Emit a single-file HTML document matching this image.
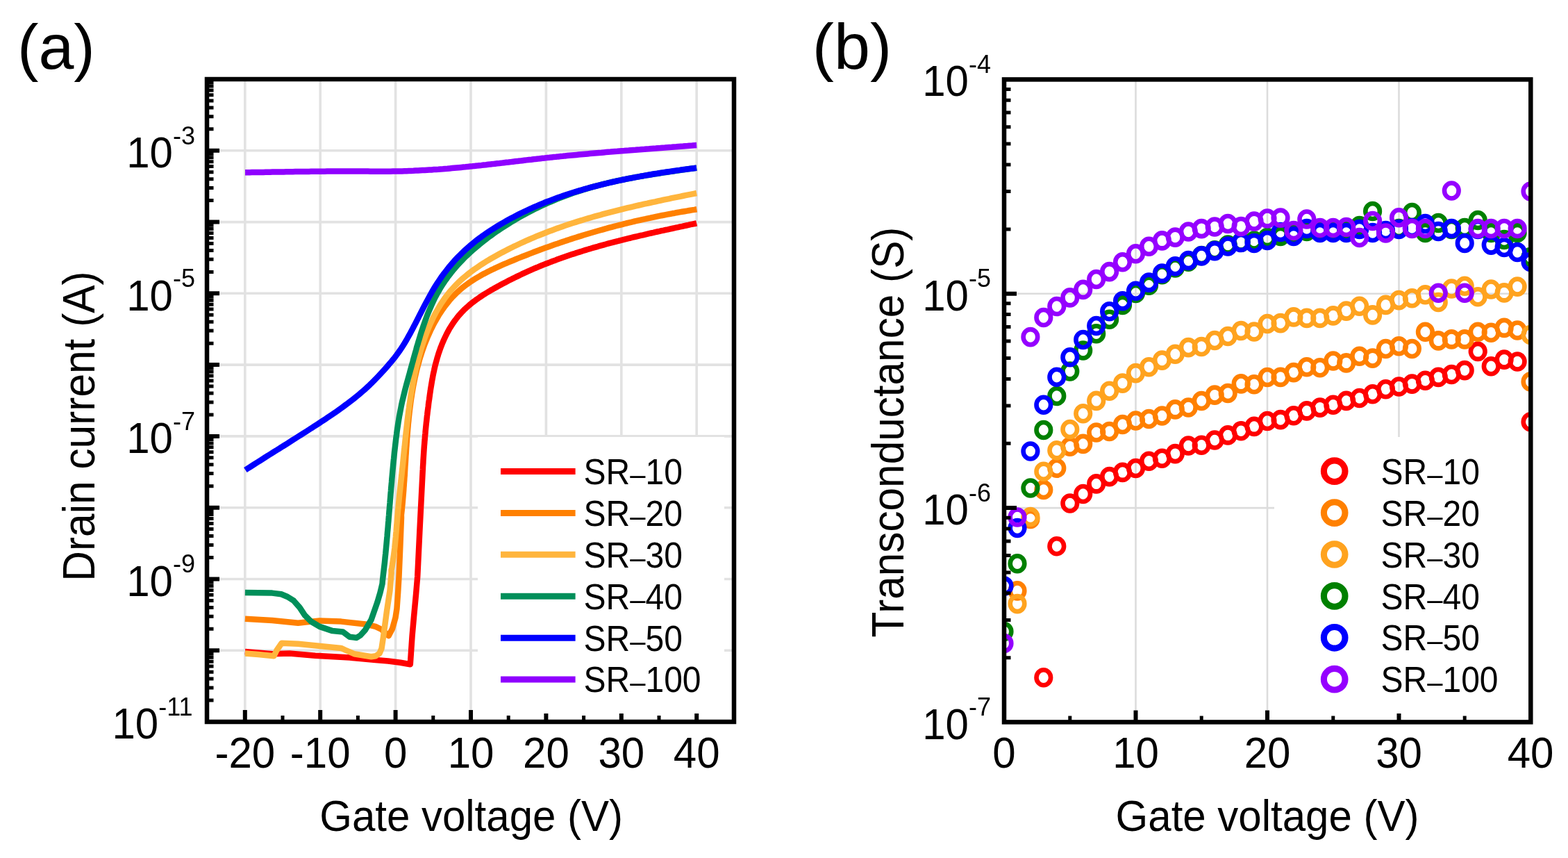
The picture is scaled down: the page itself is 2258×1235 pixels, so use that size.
<!DOCTYPE html><html><head><meta charset="utf-8"><title>Transfer characteristics and transconductance</title>
<style>html,body{margin:0;padding:0;background:#fff;}body{width:2258px;height:1235px;overflow:hidden;}svg{display:block;}text{font-family:"Liberation Sans", Arial, Helvetica, sans-serif;fill:#000;}</style></head><body>
<svg width="2258" height="1235" viewBox="0 0 2258 1235">
<rect x="0" y="0" width="2258" height="1235" fill="#fff"/>
<defs><clipPath id="ca"><rect x="298.0" y="114.0" width="759.0" height="925.0"/></clipPath>
<clipPath id="cb"><rect x="1446.0" y="114.4" width="758.3" height="925.0"/></clipPath></defs>
<g id="panel-a">
<path d="M352.8 114.0 V1039.0 M461.2 114.0 V1039.0 M569.6 114.0 V1039.0 M678.0 114.0 V1039.0 M786.4 114.0 V1039.0 M894.8 114.0 V1039.0 M1003.2 114.0 V1039.0 M298.0 216.8 H1057.0 M298.0 319.6 H1057.0 M298.0 422.3 H1057.0 M298.0 525.1 H1057.0 M298.0 627.9 H1057.0 M298.0 730.7 H1057.0 M298.0 833.5 H1057.0 M298.0 936.2 H1057.0" stroke="#e2e2e2" stroke-width="3.6" fill="none"/>
<g clip-path="url(#ca)" fill="none" stroke-width="8.5" stroke-linejoin="round" stroke-linecap="butt">
<path d="M352.9 937.9 L392.0 941.2 L416.8 940.6 L454.0 943.8 L503.6 946.6 L540.8 950.0 L559.0 951.5 L576.6 953.7 L590.8 956.3 L593.6 915.0 L596.0 888.0 L599.1 854.8 L601.2 830.0 L604.3 765.7 L608.7 678.3 L608.9 675.2 L609.0 672.2 L609.2 669.1 L609.4 666.1 L609.5 663.0 L609.7 660.0 L609.9 656.9 L610.1 653.9 L610.3 650.8 L610.5 647.8 L610.7 644.8 L610.9 641.8 L611.2 638.7 L611.4 635.7 L611.7 632.7 L611.9 629.7 L612.2 626.6 L612.5 623.6 L612.7 620.6 L613.0 617.6 L613.3 614.6 L613.6 611.6 L613.9 608.6 L614.3 605.6 L614.6 602.5 L614.9 599.5 L615.3 596.5 L615.6 593.5 L616.0 590.5 L616.4 587.5 L616.8 584.5 L617.1 581.5 L617.5 578.4 L618.0 575.4 L618.4 572.4 L618.8 569.4 L619.2 566.4 L619.7 563.3 L620.1 560.3 L620.6 557.3 L621.1 554.3 L621.6 551.2 L622.1 548.2 L622.7 545.2 L623.2 542.2 L623.8 539.2 L624.4 536.2 L625.1 533.2 L625.7 530.2 L626.4 527.2 L627.2 524.2 L628.0 521.2 L628.8 518.3 L629.6 515.3 L630.5 512.4 L631.4 509.4 L632.4 506.5 L633.4 503.6 L634.4 500.8 L635.5 497.9 L636.6 495.1 L637.8 492.3 L639.0 489.5 L640.3 486.7 L641.6 484.0 L642.9 481.3 L644.3 478.6 L645.8 475.9 L647.2 473.3 L648.8 470.8 L650.4 468.2 L652.0 465.7 L653.7 463.3 L655.5 460.8 L657.3 458.5 L659.1 456.1 L661.0 453.8 L663.0 451.6 L665.0 449.4 L667.1 447.2 L669.2 445.1 L671.4 443.1 L673.7 441.1 L675.9 439.1 L678.3 437.2 L680.6 435.3 L683.1 433.5 L685.5 431.6 L688.0 429.9 L690.5 428.1 L693.1 426.4 L695.6 424.7 L698.2 423.1 L700.8 421.5 L703.5 419.9 L706.1 418.3 L708.8 416.8 L711.5 415.2 L714.2 413.7 L716.9 412.2 L719.6 410.8 L722.3 409.3 L725.1 407.8 L727.8 406.4 L730.5 405.0 L733.2 403.6 L736.0 402.2 L738.7 400.8 L741.4 399.5 L744.2 398.1 L746.9 396.8 L749.7 395.5 L752.4 394.2 L755.2 392.9 L758.0 391.6 L760.7 390.4 L763.5 389.2 L766.3 387.9 L769.1 386.7 L771.9 385.5 L774.7 384.4 L777.5 383.2 L780.3 382.0 L783.1 380.9 L786.0 379.8 L788.8 378.7 L791.6 377.6 L794.5 376.5 L797.3 375.4 L800.2 374.4 L803.0 373.3 L805.9 372.3 L808.7 371.3 L811.6 370.3 L814.5 369.3 L817.3 368.3 L820.2 367.3 L823.1 366.3 L826.0 365.4 L828.9 364.4 L831.8 363.5 L834.7 362.6 L837.6 361.7 L840.5 360.8 L843.4 359.9 L846.3 359.0 L849.2 358.2 L852.1 357.3 L855.1 356.4 L858.0 355.6 L860.9 354.8 L863.8 353.9 L866.8 353.1 L869.7 352.3 L872.6 351.5 L875.6 350.7 L878.5 349.9 L881.5 349.2 L884.4 348.4 L887.4 347.6 L890.3 346.9 L893.3 346.1 L896.2 345.4 L899.2 344.6 L902.2 343.9 L905.1 343.2 L908.1 342.5 L911.0 341.7 L914.0 341.0 L917.0 340.3 L920.0 339.6 L922.9 338.9 L925.9 338.3 L928.9 337.6 L931.8 336.9 L934.8 336.2 L937.8 335.5 L940.8 334.9 L943.7 334.2 L946.7 333.5 L949.7 332.9 L952.7 332.2 L955.6 331.6 L958.6 330.9 L961.6 330.3 L964.6 329.6 L967.5 329.0 L970.5 328.3 L973.5 327.7 L976.5 327.1 L979.4 326.4 L982.4 325.8 L985.4 325.1 L988.4 324.5 L991.3 323.9 L994.3 323.2 L997.3 322.6 L1000.2 322.0 L1003.2 321.3" stroke="#ff0000"/>
<path d="M352.9 890.8 L392.0 893.0 L429.2 896.8 L460.2 893.4 L491.2 894.6 L528.4 898.8 L540.8 901.9 L549.5 906.0 L559.6 915.2 L565.0 905.0 L569.5 889.0 L571.5 876.0 L573.2 852.0 L574.5 830.0 L576.2 790.0 L578.0 745.0 L577.9 741.2 L578.3 737.7 L578.7 734.3 L579.0 730.8 L579.4 727.3 L579.7 723.8 L580.0 720.3 L580.3 716.8 L580.6 713.3 L580.9 709.8 L581.2 706.2 L581.4 702.7 L581.7 699.1 L581.9 695.6 L582.2 692.0 L582.4 688.5 L582.7 684.9 L582.9 681.4 L583.1 677.8 L583.3 674.2 L583.5 670.6 L583.8 667.1 L584.0 663.5 L584.2 659.9 L584.4 656.3 L584.7 652.7 L584.9 649.1 L585.1 645.5 L585.4 642.0 L585.6 638.4 L585.9 634.8 L586.1 631.2 L586.4 627.6 L586.7 624.0 L587.0 620.4 L587.3 616.8 L587.6 613.3 L587.9 609.7 L588.3 606.1 L588.6 602.5 L589.0 599.0 L589.4 595.4 L589.8 591.8 L590.2 588.3 L590.7 584.7 L591.1 581.2 L591.6 577.6 L592.1 574.1 L592.7 570.5 L593.2 567.0 L593.8 563.5 L594.4 560.0 L595.0 556.5 L595.7 553.0 L596.4 549.5 L597.1 546.0 L597.8 542.5 L598.6 539.0 L599.4 535.6 L600.2 532.1 L601.1 528.7 L602.0 525.3 L603.0 521.9 L603.9 518.4 L604.9 515.0 L606.0 511.7 L607.1 508.3 L608.2 504.9 L609.4 501.6 L610.6 498.2 L611.8 494.9 L613.1 491.6 L614.5 488.3 L615.8 485.0 L617.3 481.7 L618.7 478.5 L620.2 475.2 L621.8 472.0 L623.4 468.8 L625.1 465.6 L626.8 462.5 L628.6 459.4 L630.4 456.3 L632.2 453.2 L634.2 450.2 L636.1 447.2 L638.2 444.3 L640.2 441.4 L642.4 438.6 L644.6 435.8 L646.8 433.0 L649.1 430.3 L651.5 427.7 L653.9 425.2 L656.4 422.7 L659.0 420.2 L661.6 417.9 L664.3 415.6 L667.0 413.3 L669.8 411.2 L672.7 409.1 L675.5 407.0 L678.5 405.0 L681.4 403.1 L684.5 401.2 L687.5 399.4 L690.6 397.6 L693.7 395.8 L696.8 394.1 L700.0 392.5 L703.2 390.8 L706.4 389.2 L709.6 387.7 L712.8 386.1 L716.1 384.6 L719.4 383.1 L722.6 381.7 L725.9 380.2 L729.2 378.8 L732.5 377.4 L735.8 376.0 L739.1 374.7 L742.5 373.3 L745.8 371.9 L749.1 370.6 L752.4 369.3 L755.8 368.0 L759.1 366.7 L762.4 365.4 L765.8 364.1 L769.1 362.8 L772.5 361.5 L775.8 360.3 L779.1 359.0 L782.5 357.8 L785.9 356.6 L789.2 355.4 L792.6 354.2 L795.9 353.0 L799.3 351.8 L802.7 350.7 L806.1 349.5 L809.4 348.4 L812.8 347.2 L816.2 346.1 L819.6 345.0 L823.0 343.9 L826.4 342.8 L829.8 341.7 L833.2 340.6 L836.6 339.6 L840.0 338.5 L843.4 337.5 L846.8 336.5 L850.2 335.5 L853.6 334.5 L857.0 333.5 L860.4 332.5 L863.9 331.5 L867.3 330.6 L870.7 329.6 L874.2 328.7 L877.6 327.7 L881.0 326.8 L884.5 325.9 L887.9 325.0 L891.4 324.1 L894.8 323.3 L898.3 322.4 L901.7 321.5 L905.2 320.7 L908.7 319.9 L912.1 319.0 L915.6 318.2 L919.1 317.4 L922.6 316.6 L926.0 315.8 L929.5 315.1 L933.0 314.3 L936.5 313.6 L940.0 312.8 L943.5 312.1 L947.0 311.4 L950.5 310.7 L954.0 310.0 L957.5 309.3 L961.0 308.6 L964.5 308.0 L968.0 307.3 L971.6 306.7 L975.1 306.0 L978.6 305.4 L982.1 304.8 L985.7 304.2 L989.2 303.6 L992.7 303.0 L996.3 302.4 L999.8 301.9 L1003.4 301.3" stroke="#ff8000"/>
<path d="M352.9 940.6 L372.0 942.0 L394.5 944.2 L398.5 936.0 L405.6 925.8 L429.2 926.8 L491.2 932.9 L498.0 936.0 L510.0 941.2 L534.6 945.3 L541.0 944.2 L546.5 940.5 L549.5 933.5 L552.0 916.8 L557.0 879.6 L561.5 850.0 L563.6 825.0 L563.5 821.0 L564.3 817.0 L565.0 813.0 L565.6 809.0 L566.2 805.0 L566.8 801.0 L567.3 797.0 L567.8 793.0 L568.3 789.0 L568.7 785.0 L569.1 780.9 L569.5 776.9 L569.9 772.9 L570.2 768.8 L570.6 764.8 L570.9 760.8 L571.2 756.7 L571.6 752.7 L571.9 748.6 L572.2 744.6 L572.6 740.5 L572.9 736.5 L573.3 732.4 L573.7 728.4 L574.1 724.3 L574.5 720.3 L574.9 716.2 L575.3 712.1 L575.7 708.1 L576.2 704.0 L576.6 700.0 L577.0 695.9 L577.5 691.9 L577.9 687.8 L578.4 683.8 L578.8 679.7 L579.2 675.7 L579.7 671.6 L580.1 667.6 L580.5 663.6 L580.9 659.5 L581.3 655.5 L581.7 651.5 L582.1 647.4 L582.6 643.4 L583.0 639.4 L583.4 635.4 L583.8 631.4 L584.2 627.4 L584.6 623.4 L585.1 619.4 L585.5 615.4 L586.0 611.4 L586.4 607.4 L586.9 603.4 L587.4 599.4 L587.9 595.4 L588.4 591.4 L589.0 587.4 L589.5 583.4 L590.1 579.4 L590.7 575.4 L591.3 571.4 L591.9 567.4 L592.6 563.4 L593.3 559.4 L594.0 555.5 L594.7 551.5 L595.5 547.5 L596.3 543.5 L597.1 539.5 L597.9 535.5 L598.8 531.5 L599.7 527.5 L600.7 523.5 L601.7 519.5 L602.7 515.5 L603.8 511.5 L604.9 507.6 L606.0 503.6 L607.2 499.6 L608.5 495.7 L609.8 491.8 L611.1 487.9 L612.5 484.0 L613.9 480.2 L615.4 476.4 L616.9 472.6 L618.5 468.8 L620.2 465.1 L621.9 461.4 L623.6 457.7 L625.4 454.1 L627.3 450.5 L629.3 447.0 L631.3 443.5 L633.4 440.0 L635.5 436.6 L637.7 433.3 L640.0 430.0 L642.3 426.8 L644.8 423.6 L647.3 420.5 L649.8 417.5 L652.5 414.5 L655.2 411.6 L658.0 408.7 L660.9 405.9 L663.8 403.2 L666.8 400.5 L669.9 397.9 L673.0 395.4 L676.1 392.9 L679.4 390.4 L682.6 388.0 L686.0 385.7 L689.3 383.4 L692.7 381.1 L696.2 378.9 L699.6 376.7 L703.1 374.6 L706.6 372.5 L710.2 370.5 L713.8 368.5 L717.3 366.5 L720.9 364.5 L724.6 362.6 L728.2 360.7 L731.8 358.9 L735.5 357.0 L739.1 355.2 L742.8 353.5 L746.5 351.7 L750.1 350.0 L753.8 348.3 L757.5 346.6 L761.3 345.0 L765.0 343.4 L768.7 341.8 L772.5 340.2 L776.2 338.7 L780.0 337.2 L783.8 335.7 L787.5 334.2 L791.3 332.8 L795.1 331.4 L798.9 330.0 L802.7 328.6 L806.6 327.3 L810.4 325.9 L814.2 324.6 L818.1 323.3 L821.9 322.0 L825.8 320.8 L829.6 319.6 L833.5 318.3 L837.4 317.2 L841.2 316.0 L845.1 314.8 L849.0 313.7 L852.9 312.5 L856.8 311.4 L860.7 310.3 L864.6 309.3 L868.5 308.2 L872.5 307.1 L876.4 306.1 L880.3 305.1 L884.3 304.1 L888.2 303.1 L892.1 302.1 L896.1 301.1 L900.0 300.2 L904.0 299.2 L907.9 298.3 L911.9 297.4 L915.8 296.4 L919.8 295.5 L923.8 294.6 L927.7 293.7 L931.7 292.9 L935.7 292.0 L939.6 291.1 L943.6 290.3 L947.6 289.4 L951.5 288.6 L955.5 287.7 L959.5 286.9 L963.5 286.1 L967.4 285.2 L971.4 284.4 L975.4 283.6 L979.4 282.8 L983.3 282.0 L987.3 281.2 L991.3 280.4 L995.3 279.6 L999.2 278.8 L1003.2 278.0" stroke="#ffb53d"/>
<path d="M352.9 852.9 L392.0 853.6 L405.0 855.3 L414.0 859.0 L423.0 864.7 L431.7 874.6 L439.1 885.8 L447.8 894.5 L460.2 901.9 L478.8 908.1 L493.7 909.4 L503.6 916.8 L513.5 918.0 L519.0 914.5 L525.9 906.9 L534.6 892.0 L543.3 867.2 L547.5 853.0 L550.6 840.0 L550.9 835.7 L551.4 831.4 L551.9 827.1 L552.4 822.9 L552.9 818.6 L553.4 814.3 L553.9 810.0 L554.3 805.8 L554.7 801.5 L555.2 797.2 L555.6 792.9 L556.0 788.6 L556.4 784.3 L556.8 780.0 L557.2 775.7 L557.6 771.4 L557.9 767.1 L558.3 762.8 L558.7 758.5 L559.0 754.2 L559.4 749.9 L559.7 745.6 L560.1 741.3 L560.4 737.0 L560.8 732.7 L561.1 728.4 L561.5 724.1 L561.8 719.8 L562.2 715.5 L562.5 711.1 L562.9 706.8 L563.2 702.5 L563.6 698.2 L564.0 693.9 L564.3 689.6 L564.7 685.3 L565.1 681.0 L565.5 676.7 L565.9 672.4 L566.3 668.1 L566.7 663.8 L567.2 659.5 L567.6 655.2 L568.0 651.0 L568.5 646.7 L569.0 642.4 L569.5 638.1 L570.0 633.8 L570.5 629.6 L571.1 625.3 L571.6 621.0 L572.2 616.8 L572.9 612.5 L573.5 608.3 L574.2 604.1 L574.9 599.8 L575.7 595.6 L576.5 591.4 L577.3 587.2 L578.1 583.0 L579.0 578.8 L580.0 574.7 L581.0 570.5 L582.0 566.4 L583.0 562.2 L584.1 558.1 L585.2 553.9 L586.3 549.8 L587.5 545.6 L588.6 541.5 L589.8 537.3 L590.9 533.2 L592.1 529.0 L593.2 524.8 L594.4 520.6 L595.5 516.4 L596.7 512.2 L597.9 508.0 L599.1 503.8 L600.2 499.6 L601.5 495.4 L602.7 491.2 L604.0 487.1 L605.2 482.9 L606.5 478.7 L607.9 474.6 L609.3 470.4 L610.7 466.3 L612.1 462.3 L613.6 458.2 L615.1 454.1 L616.7 450.1 L618.4 446.1 L620.1 442.2 L621.8 438.3 L623.6 434.4 L625.5 430.5 L627.4 426.7 L629.4 423.0 L631.5 419.3 L633.6 415.6 L635.8 412.0 L638.1 408.4 L640.5 404.8 L643.0 401.4 L645.5 397.9 L648.1 394.6 L650.7 391.2 L653.4 387.9 L656.2 384.7 L659.0 381.5 L661.9 378.3 L664.9 375.2 L667.9 372.1 L670.9 369.1 L674.1 366.1 L677.2 363.2 L680.4 360.3 L683.7 357.5 L687.0 354.7 L690.3 351.9 L693.7 349.2 L697.1 346.5 L700.5 343.8 L704.0 341.2 L707.5 338.7 L711.0 336.1 L714.6 333.6 L718.2 331.2 L721.8 328.8 L725.4 326.4 L729.0 324.1 L732.7 321.8 L736.4 319.5 L740.1 317.3 L743.8 315.1 L747.6 312.9 L751.3 310.8 L755.1 308.7 L758.9 306.7 L762.7 304.7 L766.6 302.7 L770.4 300.8 L774.3 298.9 L778.2 297.0 L782.1 295.2 L786.0 293.4 L789.9 291.7 L793.9 290.0 L797.9 288.3 L801.8 286.6 L805.8 285.0 L809.8 283.5 L813.9 282.0 L817.9 280.5 L822.0 279.0 L826.0 277.6 L830.1 276.2 L834.2 274.9 L838.3 273.6 L842.4 272.3 L846.5 271.1 L850.7 269.9 L854.8 268.7 L859.0 267.6 L863.1 266.5 L867.3 265.4 L871.5 264.4 L875.7 263.3 L879.9 262.4 L884.1 261.4 L888.3 260.5 L892.5 259.6 L896.7 258.7 L901.0 257.9 L905.2 257.0 L909.5 256.2 L913.7 255.4 L917.9 254.6 L922.2 253.9 L926.5 253.2 L930.7 252.4 L935.0 251.7 L939.2 251.0 L943.5 250.4 L947.8 249.7 L952.0 249.0 L956.3 248.4 L960.6 247.7 L964.9 247.1 L969.1 246.5 L973.4 245.9 L977.6 245.2 L981.9 244.6 L986.2 244.0 L990.4 243.4 L994.7 242.8 L998.9 242.2 L1003.1 241.6" stroke="#008f5a"/>
<path d="M353.4 676.5 L356.8 674.3 L360.3 672.1 L363.7 669.9 L367.2 667.7 L370.6 665.5 L374.1 663.3 L377.6 661.1 L381.0 658.9 L384.5 656.7 L388.0 654.5 L391.4 652.4 L394.9 650.2 L398.4 648.0 L401.9 645.8 L405.3 643.6 L408.8 641.5 L412.3 639.3 L415.8 637.1 L419.2 634.9 L422.7 632.7 L426.2 630.5 L429.6 628.3 L433.1 626.1 L436.6 623.9 L440.0 621.7 L443.5 619.5 L446.9 617.3 L450.4 615.1 L453.8 612.8 L457.3 610.6 L460.7 608.4 L464.1 606.1 L467.6 603.9 L471.0 601.6 L474.4 599.3 L477.8 597.0 L481.1 594.7 L484.5 592.4 L487.9 590.0 L491.2 587.6 L494.5 585.2 L497.8 582.8 L501.1 580.4 L504.3 577.9 L507.6 575.4 L510.8 572.9 L514.0 570.3 L517.1 567.7 L520.2 565.1 L523.3 562.4 L526.4 559.7 L529.4 556.9 L532.4 554.1 L535.3 551.2 L538.3 548.3 L541.1 545.4 L544.0 542.4 L546.8 539.4 L549.6 536.4 L552.4 533.3 L555.1 530.3 L557.9 527.2 L560.5 524.1 L563.2 520.9 L565.8 517.8 L568.4 514.6 L570.9 511.3 L573.3 508.0 L575.6 504.7 L577.9 501.4 L580.1 498.0 L582.3 494.5 L584.4 491.0 L586.4 487.5 L588.4 483.9 L590.4 480.4 L592.3 476.8 L594.2 473.2 L596.1 469.5 L598.0 465.9 L599.9 462.2 L601.8 458.6 L603.6 454.9 L605.5 451.2 L607.4 447.6 L609.2 443.9 L611.1 440.3 L613.0 436.6 L615.0 433.0 L616.9 429.4 L618.9 425.8 L620.9 422.2 L622.9 418.7 L625.0 415.1 L627.2 411.6 L629.3 408.2 L631.6 404.8 L633.9 401.4 L636.2 398.0 L638.6 394.7 L641.1 391.5 L643.6 388.2 L646.1 385.0 L648.7 381.9 L651.4 378.8 L654.1 375.7 L656.9 372.7 L659.7 369.8 L662.6 366.9 L665.5 364.0 L668.5 361.2 L671.5 358.4 L674.6 355.7 L677.7 353.0 L680.8 350.4 L684.0 347.8 L687.3 345.2 L690.6 342.8 L693.9 340.3 L697.3 337.9 L700.7 335.6 L704.1 333.3 L707.5 331.0 L711.0 328.8 L714.5 326.6 L718.0 324.5 L721.5 322.4 L725.1 320.3 L728.7 318.3 L732.2 316.3 L735.9 314.3 L739.5 312.4 L743.1 310.5 L746.8 308.6 L750.4 306.8 L754.1 305.0 L757.8 303.3 L761.5 301.5 L765.2 299.8 L768.9 298.2 L772.7 296.6 L776.5 295.0 L780.2 293.4 L784.0 291.8 L787.8 290.3 L791.6 288.9 L795.5 287.4 L799.3 286.0 L803.1 284.6 L807.0 283.2 L810.9 281.9 L814.7 280.6 L818.6 279.3 L822.5 278.0 L826.4 276.8 L830.3 275.6 L834.3 274.4 L838.2 273.3 L842.1 272.1 L846.1 271.0 L850.0 269.9 L854.0 268.9 L858.0 267.8 L861.9 266.8 L865.9 265.8 L869.9 264.8 L873.9 263.9 L877.9 262.9 L881.9 262.0 L885.9 261.1 L889.9 260.2 L894.0 259.4 L898.0 258.5 L902.0 257.7 L906.1 256.9 L910.1 256.1 L914.1 255.3 L918.2 254.6 L922.2 253.8 L926.3 253.1 L930.3 252.4 L934.3 251.7 L938.4 251.0 L942.4 250.3 L946.5 249.7 L950.5 249.0 L954.6 248.4 L958.6 247.8 L962.7 247.2 L966.7 246.6 L970.8 246.0 L974.8 245.4 L978.9 244.9 L982.9 244.3 L987.0 243.8 L991.0 243.2 L995.0 242.7 L999.1 242.2 L1003.1 241.7" stroke="#0000ff"/>
<path d="M353.0 248.2 L356.3 248.2 L359.6 248.2 L362.8 248.1 L366.1 248.1 L369.4 248.0 L372.7 248.0 L375.9 247.9 L379.2 247.9 L382.5 247.8 L385.8 247.8 L389.0 247.7 L392.3 247.6 L395.6 247.6 L398.9 247.5 L402.1 247.5 L405.4 247.4 L408.7 247.4 L412.0 247.3 L415.3 247.3 L418.5 247.2 L421.8 247.2 L425.1 247.1 L428.4 247.1 L431.6 247.1 L434.9 247.0 L438.2 247.0 L441.5 246.9 L444.8 246.9 L448.0 246.8 L451.3 246.8 L454.6 246.8 L457.9 246.7 L461.1 246.7 L464.4 246.7 L467.7 246.7 L471.0 246.6 L474.2 246.6 L477.5 246.6 L480.8 246.6 L484.1 246.5 L487.4 246.5 L490.6 246.5 L493.9 246.5 L497.2 246.5 L500.5 246.5 L503.7 246.5 L507.0 246.5 L510.3 246.5 L513.6 246.5 L516.8 246.5 L520.1 246.6 L523.4 246.6 L526.7 246.6 L529.9 246.6 L533.2 246.7 L536.5 246.7 L539.7 246.7 L543.0 246.7 L546.3 246.7 L549.6 246.7 L552.8 246.7 L556.1 246.7 L559.4 246.7 L562.6 246.7 L565.9 246.6 L569.2 246.6 L572.5 246.5 L575.7 246.4 L579.0 246.4 L582.3 246.3 L585.5 246.2 L588.8 246.0 L592.1 245.9 L595.3 245.8 L598.6 245.6 L601.9 245.5 L605.2 245.3 L608.4 245.1 L611.7 245.0 L615.0 244.8 L618.2 244.6 L621.5 244.4 L624.8 244.1 L628.0 243.9 L631.3 243.7 L634.6 243.4 L637.8 243.2 L641.1 242.9 L644.3 242.7 L647.6 242.4 L650.9 242.1 L654.1 241.8 L657.4 241.5 L660.7 241.2 L663.9 240.9 L667.2 240.6 L670.4 240.3 L673.7 239.9 L677.0 239.6 L680.2 239.3 L683.5 238.9 L686.7 238.6 L690.0 238.2 L693.2 237.9 L696.5 237.5 L699.8 237.2 L703.0 236.8 L706.3 236.4 L709.5 236.1 L712.8 235.7 L716.0 235.3 L719.3 235.0 L722.6 234.6 L725.8 234.2 L729.1 233.8 L732.3 233.5 L735.6 233.1 L738.8 232.7 L742.1 232.3 L745.4 231.9 L748.6 231.6 L751.9 231.2 L755.1 230.8 L758.4 230.4 L761.6 230.0 L764.9 229.7 L768.2 229.3 L771.4 228.9 L774.7 228.6 L777.9 228.2 L781.2 227.8 L784.4 227.5 L787.7 227.1 L791.0 226.8 L794.2 226.4 L797.5 226.1 L800.7 225.8 L804.0 225.4 L807.3 225.1 L810.5 224.8 L813.8 224.4 L817.0 224.1 L820.3 223.8 L823.6 223.5 L826.8 223.2 L830.1 222.9 L833.3 222.6 L836.6 222.3 L839.9 222.0 L843.1 221.7 L846.4 221.4 L849.7 221.1 L852.9 220.8 L856.2 220.5 L859.5 220.2 L862.7 219.9 L866.0 219.7 L869.2 219.4 L872.5 219.1 L875.8 218.8 L879.0 218.6 L882.3 218.3 L885.6 218.0 L888.8 217.8 L892.1 217.5 L895.4 217.2 L898.6 217.0 L901.9 216.7 L905.2 216.5 L908.4 216.2 L911.7 215.9 L915.0 215.7 L918.2 215.4 L921.5 215.2 L924.8 214.9 L928.0 214.7 L931.3 214.4 L934.6 214.2 L937.8 213.9 L941.1 213.7 L944.4 213.5 L947.6 213.2 L950.9 213.0 L954.2 212.7 L957.4 212.5 L960.7 212.2 L964.0 212.0 L967.2 211.8 L970.5 211.5 L973.8 211.3 L977.0 211.0 L980.3 210.8 L983.6 210.6 L986.9 210.3 L990.1 210.1 L993.4 209.8 L996.7 209.6 L999.9 209.3 L1003.2 209.1" stroke="#8f00ff"/>
</g>
<path d="M352.8 1039.0 V1022.0 M461.2 1039.0 V1022.0 M569.6 1039.0 V1022.0 M678.0 1039.0 V1022.0 M786.4 1039.0 V1022.0 M894.8 1039.0 V1022.0 M1003.2 1039.0 V1022.0" stroke="#000" stroke-width="6" fill="none"/>
<path d="M407.0 1039.0 V1030.0 M515.4 1039.0 V1030.0 M623.8 1039.0 V1030.0 M732.2 1039.0 V1030.0 M840.6 1039.0 V1030.0 M949.0 1039.0 V1030.0" stroke="#000" stroke-width="5" fill="none"/>
<path d="M298.0 216.8 H316.0 M298.0 319.6 H316.0 M298.0 422.3 H316.0 M298.0 525.1 H316.0 M298.0 627.9 H316.0 M298.0 730.7 H316.0 M298.0 833.5 H316.0 M298.0 936.2 H316.0" stroke="#000" stroke-width="6" fill="none"/>
<path d="M298.0 1008.1 H307.5 M298.0 990.0 H307.5 M298.0 977.1 H307.5 M298.0 967.2 H307.5 M298.0 959.0 H307.5 M298.0 952.2 H307.5 M298.0 946.2 H307.5 M298.0 940.9 H307.5 M298.0 905.3 H307.5 M298.0 887.2 H307.5 M298.0 874.4 H307.5 M298.0 864.4 H307.5 M298.0 856.3 H307.5 M298.0 849.4 H307.5 M298.0 843.4 H307.5 M298.0 838.2 H307.5 M298.0 802.5 H307.5 M298.0 784.4 H307.5 M298.0 771.6 H307.5 M298.0 761.6 H307.5 M298.0 753.5 H307.5 M298.0 746.6 H307.5 M298.0 740.6 H307.5 M298.0 735.4 H307.5 M298.0 699.7 H307.5 M298.0 681.6 H307.5 M298.0 668.8 H307.5 M298.0 658.8 H307.5 M298.0 650.7 H307.5 M298.0 643.8 H307.5 M298.0 637.9 H307.5 M298.0 632.6 H307.5 M298.0 597.0 H307.5 M298.0 578.9 H307.5 M298.0 566.0 H307.5 M298.0 556.1 H307.5 M298.0 547.9 H307.5 M298.0 541.0 H307.5 M298.0 535.1 H307.5 M298.0 529.8 H307.5 M298.0 494.2 H307.5 M298.0 476.1 H307.5 M298.0 463.2 H307.5 M298.0 453.3 H307.5 M298.0 445.1 H307.5 M298.0 438.3 H307.5 M298.0 432.3 H307.5 M298.0 427.0 H307.5 M298.0 391.4 H307.5 M298.0 373.3 H307.5 M298.0 360.5 H307.5 M298.0 350.5 H307.5 M298.0 342.4 H307.5 M298.0 335.5 H307.5 M298.0 329.5 H307.5 M298.0 324.3 H307.5 M298.0 288.6 H307.5 M298.0 270.5 H307.5 M298.0 257.7 H307.5 M298.0 247.7 H307.5 M298.0 239.6 H307.5 M298.0 232.7 H307.5 M298.0 226.7 H307.5 M298.0 221.5 H307.5 M298.0 185.8 H307.5 M298.0 167.7 H307.5 M298.0 154.9 H307.5 M298.0 144.9 H307.5 M298.0 136.8 H307.5 M298.0 129.9 H307.5 M298.0 124.0 H307.5 M298.0 118.7 H307.5" stroke="#000" stroke-width="5" fill="none"/>
<rect x="688" y="629" width="355" height="398" fill="#fff"/>
<path d="M721 678.4 H828.6" stroke="#ff0000" stroke-width="9" fill="none"/>
<text transform="translate(840.5 696.7) scale(1 1.075)" font-size="48">SR<tspan font-size="40">–</tspan>10</text>
<path d="M721 738.4 H828.6" stroke="#ff8000" stroke-width="9" fill="none"/>
<text transform="translate(840.5 756.6) scale(1 1.075)" font-size="48">SR<tspan font-size="40">–</tspan>20</text>
<path d="M721 798.3 H828.6" stroke="#ffb53d" stroke-width="9" fill="none"/>
<text transform="translate(840.5 816.6) scale(1 1.075)" font-size="48">SR<tspan font-size="40">–</tspan>30</text>
<path d="M721 858.2 H828.6" stroke="#008f5a" stroke-width="9" fill="none"/>
<text transform="translate(840.5 876.5) scale(1 1.075)" font-size="48">SR<tspan font-size="40">–</tspan>40</text>
<path d="M721 918.2 H828.6" stroke="#0000ff" stroke-width="9" fill="none"/>
<text transform="translate(840.5 936.5) scale(1 1.075)" font-size="48">SR<tspan font-size="40">–</tspan>50</text>
<path d="M721 978.1 H828.6" stroke="#8f00ff" stroke-width="9" fill="none"/>
<text transform="translate(840.5 996.4) scale(1 1.075)" font-size="48">SR<tspan font-size="40">–</tspan>100</text>
<rect x="298.0" y="114.0" width="759.0" height="925.0" fill="none" stroke="#000" stroke-width="6.5"/>
<text transform="translate(352.8 1105.3) scale(1 1.050)" font-size="60" text-anchor="middle">-20</text>
<text transform="translate(461.2 1105.3) scale(1 1.050)" font-size="60" text-anchor="middle">-10</text>
<text transform="translate(569.6 1105.3) scale(1 1.050)" font-size="60" text-anchor="middle">0</text>
<text transform="translate(678.0 1105.3) scale(1 1.050)" font-size="60" text-anchor="middle">10</text>
<text transform="translate(786.4 1105.3) scale(1 1.050)" font-size="60" text-anchor="middle">20</text>
<text transform="translate(894.8 1105.3) scale(1 1.050)" font-size="60" text-anchor="middle">30</text>
<text transform="translate(1003.2 1105.3) scale(1 1.050)" font-size="60" text-anchor="middle">40</text>
<text transform="translate(281.0 241.1) scale(1 1.050)" font-size="60" text-anchor="end">10<tspan font-size="36" dy="-32">-3</tspan></text>
<text transform="translate(281.0 446.6) scale(1 1.050)" font-size="60" text-anchor="end">10<tspan font-size="36" dy="-32">-5</tspan></text>
<text transform="translate(281.0 652.2) scale(1 1.050)" font-size="60" text-anchor="end">10<tspan font-size="36" dy="-32">-7</tspan></text>
<text transform="translate(281.0 857.8) scale(1 1.050)" font-size="60" text-anchor="end">10<tspan font-size="36" dy="-32">-9</tspan></text>
<text transform="translate(277.5 1063.3) scale(1 1.050)" font-size="60" text-anchor="end">10<tspan font-size="36" dy="-32">-11</tspan></text>
<text transform="translate(678.6 1196.0) scale(1 1.060)" font-size="60" text-anchor="middle">Gate voltage (V)</text>
<text transform="translate(135.6 613.5) rotate(-90) scale(1 1.060)" font-size="60.4" text-anchor="middle">Drain current (A)</text>
<text transform="translate(25.0 99.0)" font-size="91.5">(a)</text>
</g>
<g id="panel-b">
<path d="M1635.5 114.4 V1039.4 M1825.0 114.4 V1039.4 M2014.5 114.4 V1039.4 M1446.0 422.7 H2204.3 M1446.0 731.1 H2204.3" stroke="#dcdcdc" stroke-width="2.6" fill="none"/>
<g clip-path="url(#cb)" fill="none" stroke-width="6.6">
<g stroke="#ff0000"><ellipse cx="1502.8" cy="975.3" rx="10.3" ry="11.0"/><ellipse cx="1521.8" cy="786.2" rx="10.3" ry="11.0"/><ellipse cx="1540.8" cy="724.5" rx="10.3" ry="11.0"/><ellipse cx="1559.7" cy="711.0" rx="10.3" ry="11.0"/><ellipse cx="1578.7" cy="696.4" rx="10.3" ry="11.0"/><ellipse cx="1597.6" cy="686.1" rx="10.3" ry="11.0"/><ellipse cx="1616.5" cy="679.9" rx="10.3" ry="11.0"/><ellipse cx="1635.5" cy="674.0" rx="10.3" ry="11.0"/><ellipse cx="1654.5" cy="663.8" rx="10.3" ry="11.0"/><ellipse cx="1673.4" cy="659.7" rx="10.3" ry="11.0"/><ellipse cx="1692.3" cy="653.1" rx="10.3" ry="11.0"/><ellipse cx="1711.3" cy="641.5" rx="10.3" ry="11.0"/><ellipse cx="1730.2" cy="640.7" rx="10.3" ry="11.0"/><ellipse cx="1749.2" cy="633.5" rx="10.3" ry="11.0"/><ellipse cx="1768.2" cy="626.4" rx="10.3" ry="11.0"/><ellipse cx="1787.1" cy="620.2" rx="10.3" ry="11.0"/><ellipse cx="1806.0" cy="613.9" rx="10.3" ry="11.0"/><ellipse cx="1825.0" cy="606.0" rx="10.3" ry="11.0"/><ellipse cx="1844.0" cy="604.1" rx="10.3" ry="11.0"/><ellipse cx="1862.9" cy="598.3" rx="10.3" ry="11.0"/><ellipse cx="1881.8" cy="591.4" rx="10.3" ry="11.0"/><ellipse cx="1900.8" cy="586.6" rx="10.3" ry="11.0"/><ellipse cx="1919.8" cy="582.7" rx="10.3" ry="11.0"/><ellipse cx="1938.7" cy="576.9" rx="10.3" ry="11.0"/><ellipse cx="1957.7" cy="573.0" rx="10.3" ry="11.0"/><ellipse cx="1976.6" cy="567.2" rx="10.3" ry="11.0"/><ellipse cx="1995.5" cy="560.3" rx="10.3" ry="11.0"/><ellipse cx="2014.5" cy="556.5" rx="10.3" ry="11.0"/><ellipse cx="2033.4" cy="552.6" rx="10.3" ry="11.0"/><ellipse cx="2052.4" cy="547.7" rx="10.3" ry="11.0"/><ellipse cx="2071.3" cy="542.9" rx="10.3" ry="11.0"/><ellipse cx="2090.3" cy="539.0" rx="10.3" ry="11.0"/><ellipse cx="2109.2" cy="533.1" rx="10.3" ry="11.0"/><ellipse cx="2128.2" cy="505.9" rx="10.3" ry="11.0"/><ellipse cx="2147.2" cy="527.3" rx="10.3" ry="11.0"/><ellipse cx="2166.1" cy="517.6" rx="10.3" ry="11.0"/><ellipse cx="2185.1" cy="520.5" rx="10.3" ry="11.0"/><ellipse cx="2204.0" cy="607.2" rx="10.3" ry="11.0"/></g>
<g stroke="#ff8000"><ellipse cx="1465.0" cy="850.4" rx="10.3" ry="11.0"/><ellipse cx="1483.9" cy="747.0" rx="10.3" ry="11.0"/><ellipse cx="1502.8" cy="705.0" rx="10.3" ry="11.0"/><ellipse cx="1521.8" cy="673.8" rx="10.3" ry="11.0"/><ellipse cx="1540.8" cy="642.8" rx="10.3" ry="11.0"/><ellipse cx="1559.7" cy="638.9" rx="10.3" ry="11.0"/><ellipse cx="1578.7" cy="622.5" rx="10.3" ry="11.0"/><ellipse cx="1597.6" cy="621.0" rx="10.3" ry="11.0"/><ellipse cx="1616.5" cy="611.0" rx="10.3" ry="11.0"/><ellipse cx="1635.5" cy="605.5" rx="10.3" ry="11.0"/><ellipse cx="1654.5" cy="603.0" rx="10.3" ry="11.0"/><ellipse cx="1673.4" cy="598.5" rx="10.3" ry="11.0"/><ellipse cx="1692.3" cy="589.4" rx="10.3" ry="11.0"/><ellipse cx="1711.3" cy="586.5" rx="10.3" ry="11.0"/><ellipse cx="1730.2" cy="577.0" rx="10.3" ry="11.0"/><ellipse cx="1749.2" cy="568.6" rx="10.3" ry="11.0"/><ellipse cx="1768.2" cy="566.0" rx="10.3" ry="11.0"/><ellipse cx="1787.1" cy="552.4" rx="10.3" ry="11.0"/><ellipse cx="1806.0" cy="553.3" rx="10.3" ry="11.0"/><ellipse cx="1825.0" cy="543.0" rx="10.3" ry="11.0"/><ellipse cx="1844.0" cy="542.9" rx="10.3" ry="11.0"/><ellipse cx="1862.9" cy="536.1" rx="10.3" ry="11.0"/><ellipse cx="1881.8" cy="528.3" rx="10.3" ry="11.0"/><ellipse cx="1900.8" cy="529.3" rx="10.3" ry="11.0"/><ellipse cx="1919.8" cy="519.5" rx="10.3" ry="11.0"/><ellipse cx="1938.7" cy="522.4" rx="10.3" ry="11.0"/><ellipse cx="1957.7" cy="512.7" rx="10.3" ry="11.0"/><ellipse cx="1976.6" cy="515.6" rx="10.3" ry="11.0"/><ellipse cx="1995.5" cy="502.0" rx="10.3" ry="11.0"/><ellipse cx="2014.5" cy="498.2" rx="10.3" ry="11.0"/><ellipse cx="2033.4" cy="502.0" rx="10.3" ry="11.0"/><ellipse cx="2052.4" cy="477.7" rx="10.3" ry="11.0"/><ellipse cx="2071.3" cy="490.4" rx="10.3" ry="11.0"/><ellipse cx="2090.3" cy="488.4" rx="10.3" ry="11.0"/><ellipse cx="2109.2" cy="488.4" rx="10.3" ry="11.0"/><ellipse cx="2128.2" cy="477.7" rx="10.3" ry="11.0"/><ellipse cx="2147.2" cy="478.7" rx="10.3" ry="11.0"/><ellipse cx="2166.1" cy="471.9" rx="10.3" ry="11.0"/><ellipse cx="2185.1" cy="475.5" rx="10.3" ry="11.0"/><ellipse cx="2204.0" cy="549.4" rx="10.3" ry="11.0"/></g>
<g stroke="#ffa31f"><ellipse cx="1465.0" cy="869.1" rx="10.3" ry="11.0"/><ellipse cx="1483.9" cy="744.0" rx="10.3" ry="11.0"/><ellipse cx="1502.8" cy="678.7" rx="10.3" ry="11.0"/><ellipse cx="1521.8" cy="648.3" rx="10.3" ry="11.0"/><ellipse cx="1540.8" cy="618.0" rx="10.3" ry="11.0"/><ellipse cx="1559.7" cy="595.2" rx="10.3" ry="11.0"/><ellipse cx="1578.7" cy="576.9" rx="10.3" ry="11.0"/><ellipse cx="1597.6" cy="562.8" rx="10.3" ry="11.0"/><ellipse cx="1616.5" cy="551.6" rx="10.3" ry="11.0"/><ellipse cx="1635.5" cy="537.1" rx="10.3" ry="11.0"/><ellipse cx="1654.5" cy="528.3" rx="10.3" ry="11.0"/><ellipse cx="1673.4" cy="518.6" rx="10.3" ry="11.0"/><ellipse cx="1692.3" cy="509.8" rx="10.3" ry="11.0"/><ellipse cx="1711.3" cy="500.1" rx="10.3" ry="11.0"/><ellipse cx="1730.2" cy="499.0" rx="10.3" ry="11.0"/><ellipse cx="1749.2" cy="490.0" rx="10.3" ry="11.0"/><ellipse cx="1768.2" cy="484.0" rx="10.3" ry="11.0"/><ellipse cx="1787.1" cy="476.0" rx="10.3" ry="11.0"/><ellipse cx="1806.0" cy="477.5" rx="10.3" ry="11.0"/><ellipse cx="1825.0" cy="466.0" rx="10.3" ry="11.0"/><ellipse cx="1844.0" cy="465.1" rx="10.3" ry="11.0"/><ellipse cx="1862.9" cy="456.4" rx="10.3" ry="11.0"/><ellipse cx="1881.8" cy="457.9" rx="10.3" ry="11.0"/><ellipse cx="1900.8" cy="457.9" rx="10.3" ry="11.0"/><ellipse cx="1919.8" cy="454.4" rx="10.3" ry="11.0"/><ellipse cx="1938.7" cy="447.6" rx="10.3" ry="11.0"/><ellipse cx="1957.7" cy="440.8" rx="10.3" ry="11.0"/><ellipse cx="1976.6" cy="453.4" rx="10.3" ry="11.0"/><ellipse cx="1995.5" cy="438.9" rx="10.3" ry="11.0"/><ellipse cx="2014.5" cy="432.1" rx="10.3" ry="11.0"/><ellipse cx="2033.4" cy="429.2" rx="10.3" ry="11.0"/><ellipse cx="2052.4" cy="424.3" rx="10.3" ry="11.0"/><ellipse cx="2071.3" cy="435.0" rx="10.3" ry="11.0"/><ellipse cx="2090.3" cy="415.5" rx="10.3" ry="11.0"/><ellipse cx="2109.2" cy="411.7" rx="10.3" ry="11.0"/><ellipse cx="2128.2" cy="427.2" rx="10.3" ry="11.0"/><ellipse cx="2147.2" cy="416.5" rx="10.3" ry="11.0"/><ellipse cx="2166.1" cy="421.4" rx="10.3" ry="11.0"/><ellipse cx="2185.1" cy="412.6" rx="10.3" ry="11.0"/><ellipse cx="2204.0" cy="482.0" rx="10.3" ry="11.0"/></g>
<g stroke="#008000"><ellipse cx="1446.0" cy="909.0" rx="10.3" ry="11.0"/><ellipse cx="1465.0" cy="811.3" rx="10.3" ry="11.0"/><ellipse cx="1483.9" cy="702.5" rx="10.3" ry="11.0"/><ellipse cx="1502.8" cy="619.0" rx="10.3" ry="11.0"/><ellipse cx="1521.8" cy="570.0" rx="10.3" ry="11.0"/><ellipse cx="1540.8" cy="534.5" rx="10.3" ry="11.0"/><ellipse cx="1559.7" cy="504.5" rx="10.3" ry="11.0"/><ellipse cx="1578.7" cy="480.2" rx="10.3" ry="11.0"/><ellipse cx="1597.6" cy="459.8" rx="10.3" ry="11.0"/><ellipse cx="1616.5" cy="439.0" rx="10.3" ry="11.0"/><ellipse cx="1635.5" cy="422.0" rx="10.3" ry="11.0"/><ellipse cx="1654.5" cy="410.7" rx="10.3" ry="11.0"/><ellipse cx="1673.4" cy="395.2" rx="10.3" ry="11.0"/><ellipse cx="1692.3" cy="385.5" rx="10.3" ry="11.0"/><ellipse cx="1711.3" cy="376.7" rx="10.3" ry="11.0"/><ellipse cx="1730.2" cy="368.0" rx="10.3" ry="11.0"/><ellipse cx="1749.2" cy="360.2" rx="10.3" ry="11.0"/><ellipse cx="1768.2" cy="352.5" rx="10.3" ry="11.0"/><ellipse cx="1787.1" cy="348.6" rx="10.3" ry="11.0"/><ellipse cx="1806.0" cy="346.6" rx="10.3" ry="11.0"/><ellipse cx="1825.0" cy="342.0" rx="10.3" ry="11.0"/><ellipse cx="1844.0" cy="340.0" rx="10.3" ry="11.0"/><ellipse cx="1862.9" cy="338.0" rx="10.3" ry="11.0"/><ellipse cx="1881.8" cy="333.0" rx="10.3" ry="11.0"/><ellipse cx="1900.8" cy="333.0" rx="10.3" ry="11.0"/><ellipse cx="1919.8" cy="330.0" rx="10.3" ry="11.0"/><ellipse cx="1938.7" cy="330.0" rx="10.3" ry="11.0"/><ellipse cx="1957.7" cy="325.0" rx="10.3" ry="11.0"/><ellipse cx="1976.6" cy="304.0" rx="10.3" ry="11.0"/><ellipse cx="1995.5" cy="333.0" rx="10.3" ry="11.0"/><ellipse cx="2014.5" cy="329.0" rx="10.3" ry="11.0"/><ellipse cx="2033.4" cy="306.0" rx="10.3" ry="11.0"/><ellipse cx="2052.4" cy="335.0" rx="10.3" ry="11.0"/><ellipse cx="2071.3" cy="321.0" rx="10.3" ry="11.0"/><ellipse cx="2090.3" cy="330.0" rx="10.3" ry="11.0"/><ellipse cx="2109.2" cy="328.0" rx="10.3" ry="11.0"/><ellipse cx="2128.2" cy="317.0" rx="10.3" ry="11.0"/><ellipse cx="2147.2" cy="335.0" rx="10.3" ry="11.0"/><ellipse cx="2166.1" cy="345.0" rx="10.3" ry="11.0"/><ellipse cx="2185.1" cy="335.0" rx="10.3" ry="11.0"/><ellipse cx="2204.0" cy="370.0" rx="10.3" ry="11.0"/></g>
<g stroke="#0000ff"><ellipse cx="1446.0" cy="843.6" rx="10.3" ry="11.0"/><ellipse cx="1465.0" cy="760.0" rx="10.3" ry="11.0"/><ellipse cx="1483.9" cy="649.5" rx="10.3" ry="11.0"/><ellipse cx="1502.8" cy="582.7" rx="10.3" ry="11.0"/><ellipse cx="1521.8" cy="542.7" rx="10.3" ry="11.0"/><ellipse cx="1540.8" cy="514.2" rx="10.3" ry="11.0"/><ellipse cx="1559.7" cy="489.0" rx="10.3" ry="11.0"/><ellipse cx="1578.7" cy="469.0" rx="10.3" ry="11.0"/><ellipse cx="1597.6" cy="448.3" rx="10.3" ry="11.0"/><ellipse cx="1616.5" cy="433.2" rx="10.3" ry="11.0"/><ellipse cx="1635.5" cy="418.8" rx="10.3" ry="11.0"/><ellipse cx="1654.5" cy="406.6" rx="10.3" ry="11.0"/><ellipse cx="1673.4" cy="393.5" rx="10.3" ry="11.0"/><ellipse cx="1692.3" cy="383.3" rx="10.3" ry="11.0"/><ellipse cx="1711.3" cy="375.0" rx="10.3" ry="11.0"/><ellipse cx="1730.2" cy="368.4" rx="10.3" ry="11.0"/><ellipse cx="1749.2" cy="361.1" rx="10.3" ry="11.0"/><ellipse cx="1768.2" cy="354.5" rx="10.3" ry="11.0"/><ellipse cx="1787.1" cy="349.0" rx="10.3" ry="11.0"/><ellipse cx="1806.0" cy="350.0" rx="10.3" ry="11.0"/><ellipse cx="1825.0" cy="346.0" rx="10.3" ry="11.0"/><ellipse cx="1844.0" cy="334.0" rx="10.3" ry="11.0"/><ellipse cx="1862.9" cy="340.0" rx="10.3" ry="11.0"/><ellipse cx="1881.8" cy="329.0" rx="10.3" ry="11.0"/><ellipse cx="1900.8" cy="335.0" rx="10.3" ry="11.0"/><ellipse cx="1919.8" cy="335.0" rx="10.3" ry="11.0"/><ellipse cx="1938.7" cy="335.0" rx="10.3" ry="11.0"/><ellipse cx="1957.7" cy="330.0" rx="10.3" ry="11.0"/><ellipse cx="1976.6" cy="335.0" rx="10.3" ry="11.0"/><ellipse cx="1995.5" cy="332.0" rx="10.3" ry="11.0"/><ellipse cx="2014.5" cy="330.0" rx="10.3" ry="11.0"/><ellipse cx="2033.4" cy="328.0" rx="10.3" ry="11.0"/><ellipse cx="2052.4" cy="322.0" rx="10.3" ry="11.0"/><ellipse cx="2071.3" cy="333.0" rx="10.3" ry="11.0"/><ellipse cx="2090.3" cy="329.0" rx="10.3" ry="11.0"/><ellipse cx="2109.2" cy="350.0" rx="10.3" ry="11.0"/><ellipse cx="2128.2" cy="330.0" rx="10.3" ry="11.0"/><ellipse cx="2147.2" cy="352.6" rx="10.3" ry="11.0"/><ellipse cx="2166.1" cy="356.0" rx="10.3" ry="11.0"/><ellipse cx="2185.1" cy="363.0" rx="10.3" ry="11.0"/><ellipse cx="2204.0" cy="377.0" rx="10.3" ry="11.0"/></g>
<g stroke="#9500ff"><ellipse cx="1446.0" cy="926.0" rx="10.3" ry="11.0"/><ellipse cx="1465.0" cy="744.5" rx="10.3" ry="11.0"/><ellipse cx="1483.9" cy="485.1" rx="10.3" ry="11.0"/><ellipse cx="1502.8" cy="457.0" rx="10.3" ry="11.0"/><ellipse cx="1521.8" cy="441.0" rx="10.3" ry="11.0"/><ellipse cx="1540.8" cy="428.4" rx="10.3" ry="11.0"/><ellipse cx="1559.7" cy="416.9" rx="10.3" ry="11.0"/><ellipse cx="1578.7" cy="402.0" rx="10.3" ry="11.0"/><ellipse cx="1597.6" cy="391.1" rx="10.3" ry="11.0"/><ellipse cx="1616.5" cy="377.2" rx="10.3" ry="11.0"/><ellipse cx="1635.5" cy="365.2" rx="10.3" ry="11.0"/><ellipse cx="1654.5" cy="354.7" rx="10.3" ry="11.0"/><ellipse cx="1673.4" cy="346.4" rx="10.3" ry="11.0"/><ellipse cx="1692.3" cy="341.6" rx="10.3" ry="11.0"/><ellipse cx="1711.3" cy="333.5" rx="10.3" ry="11.0"/><ellipse cx="1730.2" cy="329.1" rx="10.3" ry="11.0"/><ellipse cx="1749.2" cy="326.5" rx="10.3" ry="11.0"/><ellipse cx="1768.2" cy="322.0" rx="10.3" ry="11.0"/><ellipse cx="1787.1" cy="326.0" rx="10.3" ry="11.0"/><ellipse cx="1806.0" cy="318.6" rx="10.3" ry="11.0"/><ellipse cx="1825.0" cy="314.5" rx="10.3" ry="11.0"/><ellipse cx="1844.0" cy="313.6" rx="10.3" ry="11.0"/><ellipse cx="1862.9" cy="332.0" rx="10.3" ry="11.0"/><ellipse cx="1881.8" cy="315.5" rx="10.3" ry="11.0"/><ellipse cx="1900.8" cy="328.0" rx="10.3" ry="11.0"/><ellipse cx="1919.8" cy="328.0" rx="10.3" ry="11.0"/><ellipse cx="1938.7" cy="327.0" rx="10.3" ry="11.0"/><ellipse cx="1957.7" cy="342.0" rx="10.3" ry="11.0"/><ellipse cx="1976.6" cy="318.0" rx="10.3" ry="11.0"/><ellipse cx="1995.5" cy="335.5" rx="10.3" ry="11.0"/><ellipse cx="2014.5" cy="313.3" rx="10.3" ry="11.0"/><ellipse cx="2033.4" cy="329.0" rx="10.3" ry="11.0"/><ellipse cx="2052.4" cy="329.0" rx="10.3" ry="11.0"/><ellipse cx="2071.3" cy="421.8" rx="10.3" ry="11.0"/><ellipse cx="2090.3" cy="274.5" rx="10.3" ry="11.0"/><ellipse cx="2109.2" cy="421.8" rx="10.3" ry="11.0"/><ellipse cx="2128.2" cy="329.0" rx="10.3" ry="11.0"/><ellipse cx="2147.2" cy="329.0" rx="10.3" ry="11.0"/><ellipse cx="2166.1" cy="329.0" rx="10.3" ry="11.0"/><ellipse cx="2185.1" cy="329.0" rx="10.3" ry="11.0"/><ellipse cx="2204.0" cy="275.5" rx="10.3" ry="11.0"/></g>
</g>
<path d="M1635.5 1039.4 V1022.4 M1825.0 1039.4 V1022.4 M2014.5 1039.4 V1022.4" stroke="#000" stroke-width="6" fill="none"/>
<path d="M1540.8 1039.4 V1030.4 M1730.2 1039.4 V1030.4 M1919.8 1039.4 V1030.4 M2109.2 1039.4 V1030.4" stroke="#000" stroke-width="5" fill="none"/>
<path d="M1446.0 422.7 H1464.0 M1446.0 731.1 H1464.0" stroke="#000" stroke-width="6" fill="none"/>
<path d="M1446.0 946.7 H1455.5 M1446.0 892.4 H1455.5 M1446.0 853.8 H1455.5 M1446.0 823.9 H1455.5 M1446.0 799.5 H1455.5 M1446.0 778.9 H1455.5 M1446.0 761.0 H1455.5 M1446.0 745.2 H1455.5 M1446.0 638.3 H1455.5 M1446.0 584.0 H1455.5 M1446.0 545.4 H1455.5 M1446.0 515.5 H1455.5 M1446.0 491.1 H1455.5 M1446.0 470.5 H1455.5 M1446.0 452.6 H1455.5 M1446.0 436.8 H1455.5 M1446.0 329.9 H1455.5 M1446.0 275.6 H1455.5 M1446.0 237.0 H1455.5 M1446.0 207.1 H1455.5 M1446.0 182.7 H1455.5 M1446.0 162.1 H1455.5 M1446.0 144.2 H1455.5 M1446.0 128.4 H1455.5" stroke="#000" stroke-width="5" fill="none"/>
<rect x="1835" y="629" width="366" height="398" fill="#fff"/>
<circle cx="1921.7" cy="678.2" r="15.3" fill="none" stroke="#ff0000" stroke-width="9.1"/>
<text transform="translate(1988.5 696.8) scale(1 1.075)" font-size="48">SR<tspan font-size="40">–</tspan>10</text>
<circle cx="1921.7" cy="738.1" r="15.3" fill="none" stroke="#ff8000" stroke-width="9.1"/>
<text transform="translate(1988.5 756.7) scale(1 1.075)" font-size="48">SR<tspan font-size="40">–</tspan>20</text>
<circle cx="1921.7" cy="798.0" r="15.3" fill="none" stroke="#ffa31f" stroke-width="9.1"/>
<text transform="translate(1988.5 816.6) scale(1 1.075)" font-size="48">SR<tspan font-size="40">–</tspan>30</text>
<circle cx="1921.7" cy="857.9" r="15.3" fill="none" stroke="#008000" stroke-width="9.1"/>
<text transform="translate(1988.5 876.5) scale(1 1.075)" font-size="48">SR<tspan font-size="40">–</tspan>40</text>
<circle cx="1921.7" cy="917.8" r="15.3" fill="none" stroke="#0000ff" stroke-width="9.1"/>
<text transform="translate(1988.5 936.4) scale(1 1.075)" font-size="48">SR<tspan font-size="40">–</tspan>50</text>
<circle cx="1921.7" cy="977.7" r="15.3" fill="none" stroke="#9500ff" stroke-width="9.1"/>
<text transform="translate(1988.5 996.3) scale(1 1.075)" font-size="48">SR<tspan font-size="40">–</tspan>100</text>
<rect x="1446.0" y="114.4" width="758.3" height="925.0" fill="none" stroke="#000" stroke-width="6.5"/>
<text transform="translate(1446.0 1105.3) scale(1 1.050)" font-size="60" text-anchor="middle">0</text>
<text transform="translate(1635.5 1105.3) scale(1 1.050)" font-size="60" text-anchor="middle">10</text>
<text transform="translate(1825.0 1105.3) scale(1 1.050)" font-size="60" text-anchor="middle">20</text>
<text transform="translate(2014.5 1105.3) scale(1 1.050)" font-size="60" text-anchor="middle">30</text>
<text transform="translate(2204.0 1105.3) scale(1 1.050)" font-size="60" text-anchor="middle">40</text>
<text transform="translate(1427.0 138.3) scale(1 1.050)" font-size="60" text-anchor="end">10<tspan font-size="36" dy="-32">-4</tspan></text>
<text transform="translate(1427.0 446.7) scale(1 1.050)" font-size="60" text-anchor="end">10<tspan font-size="36" dy="-32">-5</tspan></text>
<text transform="translate(1427.0 755.1) scale(1 1.050)" font-size="60" text-anchor="end">10<tspan font-size="36" dy="-32">-6</tspan></text>
<text transform="translate(1427.0 1063.5) scale(1 1.050)" font-size="60" text-anchor="end">10<tspan font-size="36" dy="-32">-7</tspan></text>
<text transform="translate(1825.0 1196.0) scale(1 1.060)" font-size="60" text-anchor="middle">Gate voltage (V)</text>
<text transform="translate(1301.0 622.0) rotate(-90) scale(1 1.060)" font-size="60.3" text-anchor="middle">Transconductance (S)</text>
<text transform="translate(1169.8 99.0)" font-size="93.5">(b)</text>
</g>
</svg></body></html>
